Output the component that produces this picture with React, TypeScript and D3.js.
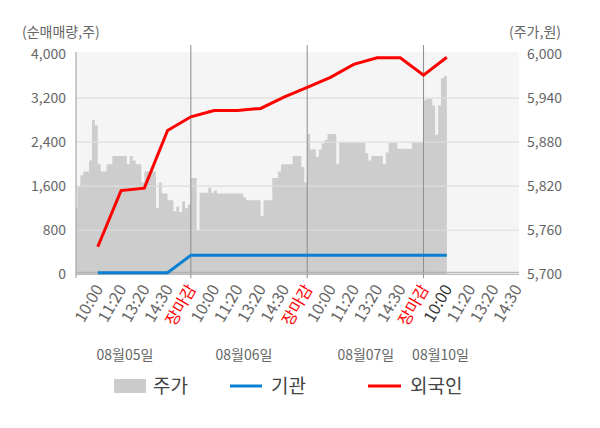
import React from "react";
import * as d3 from "d3";

// ---- data ----
const days = ["08월05일", "08월06일", "08월07일", "08월10일"];
const timeLabels = ["10:00", "11:20", "13:20", "14:30", "장마감"];
const lastDayLabels = ["10:00", "11:20", "13:20", "14:30"];
const leftTicks = [0, 800, 1600, 2400, 3200, 4000];
const rightTicks = [5700, 5760, 5820, 5880, 5940, 6000];

// 주가 (price) sampled through each session
const priceDay1 = [5790, 5819, 5835, 5840, 5840, 5855, 5910, 5903, 5850, 5840, 5840, 5850, 5850, 5861, 5861, 5861, 5861, 5861, 5850, 5861, 5855, 5850, 5850, 5825, 5840, 5840, 5840, 5840, 5790, 5825, 5810, 5810, 5801, 5801, 5786, 5792, 5785, 5799, 5790, 5795];
const priceDay2 = [5831, 5831, 5760, 5811, 5811, 5811, 5818, 5811, 5814, 5810, 5810, 5810, 5810, 5810, 5810, 5810, 5810, 5810, 5805, 5801, 5801, 5801, 5801, 5801, 5779, 5801, 5801, 5801, 5831, 5831, 5840, 5850, 5850, 5850, 5850, 5861, 5861, 5861, 5846, 5825];
const priceDay3 = [5891, 5870, 5870, 5860, 5870, 5878, 5883, 5891, 5891, 5891, 5850, 5879, 5879, 5879, 5879, 5879, 5879, 5879, 5879, 5879, 5865, 5855, 5861, 5861, 5861, 5861, 5850, 5866, 5879, 5879, 5879, 5871, 5871, 5871, 5871, 5871, 5879, 5879, 5879, 5879];
const priceDay4 = [5937, 5939, 5939, 5930, 5890, 5930, 5967, 5970];

// 외국인 / 기관 net volume at the labelled times (index 1..16)
const foreign = [501, 1520, 1564, 2611, 2860, 2975, 2975, 3011, 3215, 3396, 3575, 3811, 3933, 3933, 3615, 3941];
const institution = [30, 30, 30, 30, 345, 345, 345, 345, 345, 345, 345, 345, 345, 345, 345, 345];

const dateLabelPos = [2.17, 7.28, 12.52, 15.73];

const W = 600;
const H = 428;
const plot = { left: 76, right: 519, top: 52, bottom: 274.3 };
const FONT = "'Noto Sans CJK KR', 'Noto Sans', sans-serif";

export default function App() {
  const x = d3.scaleLinear().domain([0, 20]).range([74.5, 74.5 + 20 * 23.27]);
  const yL = d3.scaleLinear().domain([0, 4000]).range([plot.bottom, 54]);
  const yR = d3.scaleLinear().domain([5700, 6000]).range([plot.bottom, 54]);

  const perDay = 40;
  const pricePts: [number, number][] = [];
  [priceDay1, priceDay2, priceDay3, priceDay4].forEach((arr, d) => {
    arr.forEach((v, k) => pricePts.push([d * 5 + (k * 5) / perDay, v]));
  });
  pricePts.push([16, priceDay4[priceDay4.length - 1]]);

  const area = d3
    .area<[number, number]>()
    .x((p) => x(p[0]))
    .y0(plot.bottom)
    .y1((p) => yR(p[1]))
    .curve(d3.curveStepAfter);

  const line = d3
    .line<number>()
    .x((_, i) => x(i + 1))
    .y((v) => yL(v));

  const xLabels: { i: number; t: string }[] = [];
  for (let d = 0; d < 3; d++) timeLabels.forEach((t, j) => xLabels.push({ i: d * 5 + j + 1, t }));
  lastDayLabels.forEach((t, j) => xLabels.push({ i: 15 + j + 1, t }));

  return (
    <div>
      <style>{`body{margin:0}`}</style>
      <svg width={W} height={H} style={{ display: "block", fontFamily: FONT }}>
        <defs>
          <clipPath id="pc">
            <rect x={plot.left} y={plot.top} width={plot.right - plot.left} height={plot.bottom - plot.top} />
          </clipPath>
        </defs>
        <rect x={0} y={0} width={W} height={H} fill="#fff" />
        <rect x={plot.left} y={plot.top} width={plot.right - plot.left} height={plot.bottom - plot.top} fill="#f5f5f5" />
        <path d={area(pricePts) || ""} fill="#cdcdcd" clipPath="url(#pc)" />
        {leftTicks.slice(1, -1).map((t) => (
          <line key={t} x1={plot.left} x2={plot.right} y1={yL(t)} y2={yL(t)} stroke="#dddddd" strokeWidth={1.2} />
        ))}
        {[5, 10, 15].map((i) => (
          <line key={i} x1={x(i)} x2={x(i)} y1={45} y2={278} stroke="#8c8c8c" strokeWidth={1} />
        ))}
        <line x1={plot.left} x2={plot.left} y1={plot.top} y2={278} stroke="#999" strokeWidth={1} />
        <line x1={plot.left} x2={plot.right} y1={272.3} y2={272.3} stroke="#aaa" strokeWidth={1} />
        <line x1={plot.left} x2={plot.right} y1={plot.bottom} y2={plot.bottom} stroke="#aaa" strokeWidth={1} />
        <path d={line(institution) || ""} fill="none" stroke="#0a80d2" strokeWidth={3} />
        <path d={line(foreign) || ""} fill="none" stroke="#ff0000" strokeWidth={3} />

        {leftTicks.map((t) => (
          <text key={t} x={66} y={yL(t)} dy="0.35em" textAnchor="end" fontSize={14} fill="#666">
            {d3.format(",")(t)}
          </text>
        ))}
        {rightTicks.map((t) => (
          <text key={t} x={527} y={yR(t)} dy="0.35em" textAnchor="start" fontSize={14} fill="#666">
            {d3.format(",")(t)}
          </text>
        ))}
        <text x={22} y={32} dy="0.35em" fontSize={14} fill="#666">(순매매량,주)</text>
        <text x={561} y={32} dy="0.35em" textAnchor="end" fontSize={14} fill="#666">(주가,원)</text>

        {xLabels.map(({ i, t }) => (
          <text
            key={i}
            transform={`translate(${x(i) + 1},${286}) rotate(-60)`}
            dy="0.35em"
            textAnchor="end"
            fontSize={16}
            fill={t === "장마감" ? "#ff0000" : i === 16 ? "#333" : "#666"}
          >
            {t}
          </text>
        ))}
        {days.map((d, k) => (
          <text key={d} x={x(dateLabelPos[k])} y={355} dy="0.35em" textAnchor="middle" fontSize={14} fill="#666">
            {d}
          </text>
        ))}

        <rect x={114} y={379} width={32} height={14} fill="#cccccc" />
        <text x={153} y={386} dy="0.35em" fontSize={19} fill="#444">주가</text>
        <line x1={230} x2={262} y1={386} y2={386} stroke="#0a80d2" strokeWidth={3} />
        <text x={271} y={386} dy="0.35em" fontSize={19} fill="#444">기관</text>
        <line x1={368} x2={401} y1={386} y2={386} stroke="#ff0000" strokeWidth={3} />
        <text x={410} y={386} dy="0.35em" fontSize={19} fill="#444">외국인</text>
      </svg>
    </div>
  );
}
